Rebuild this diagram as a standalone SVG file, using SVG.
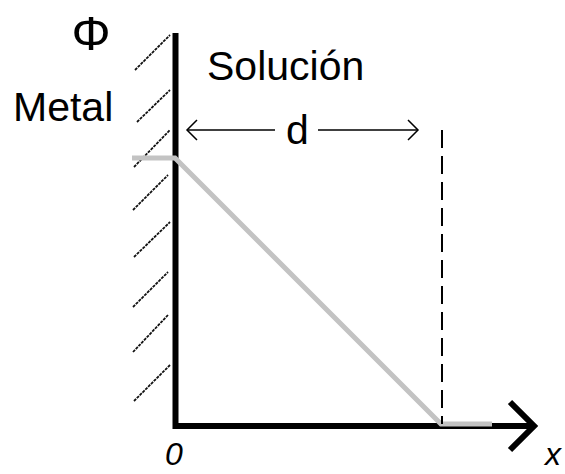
<svg xmlns="http://www.w3.org/2000/svg" width="565" height="474" viewBox="0 0 565 474">
<defs>
<style>
.lbl{font-family:"Liberation Sans",Arial,sans-serif;font-size:41px;fill:#000}
.it{font-style:italic;font-size:32px}
.axis{stroke:#000;stroke-width:6;fill:none}
.hatch{stroke:#111;stroke-width:1.8;stroke-dasharray:3,1;fill:none}
.thin{stroke:#000;stroke-width:1.5;fill:none}
.gray{stroke:#c3c3c3;stroke-width:5;fill:none}
</style>
</defs>
<rect width="565" height="474" fill="#fff"/>
<g id="hatching">
<line class="hatch" x1="135" y1="70" x2="170" y2="35"/>
<line class="hatch" x1="137" y1="122" x2="170" y2="90"/>
<line class="hatch" x1="134" y1="167" x2="170" y2="130"/>
<line class="hatch" x1="133" y1="210" x2="168" y2="175"/>
<line class="hatch" x1="134" y1="257" x2="170" y2="222"/>
<line class="hatch" x1="133" y1="307" x2="168" y2="272"/>
<line class="hatch" x1="133" y1="352" x2="168" y2="315"/>
<line class="hatch" x1="134" y1="401" x2="170" y2="365"/>
</g>
<g id="axes">
<polyline class="axis" points="175.5,33 175.5,426 533,426"/>
<polyline class="axis" points="510,402 534,426 510,450"/>
</g>
<g id="potential">
<polyline class="gray" points="132,158 175,158 441,424 492,424"/>
</g>
<g id="boundary">
<line x1="442" y1="130" x2="442" y2="424" stroke="#000" stroke-width="2" stroke-dasharray="18,8"/>
</g>
<g id="d-arrow">
<line class="thin" x1="187" y1="130" x2="275" y2="130"/>
<polyline class="thin" points="197,120 187,130 197,140"/>
<line class="thin" x1="318" y1="130" x2="418" y2="130"/>
<polyline class="thin" points="408,120 418,130 408,140"/>
</g>
<g id="labels">
<text class="lbl" x="91" y="50" text-anchor="middle" style="font-size:49px">Φ</text>
<text class="lbl" x="13" y="121">Metal</text>
<text class="lbl" x="207" y="80">Solución</text>
<text class="lbl" x="286" y="144">d</text>
<text class="lbl it" x="165" y="465">0</text>
<text class="lbl it" x="545" y="465">x</text>
</g>
</svg>
